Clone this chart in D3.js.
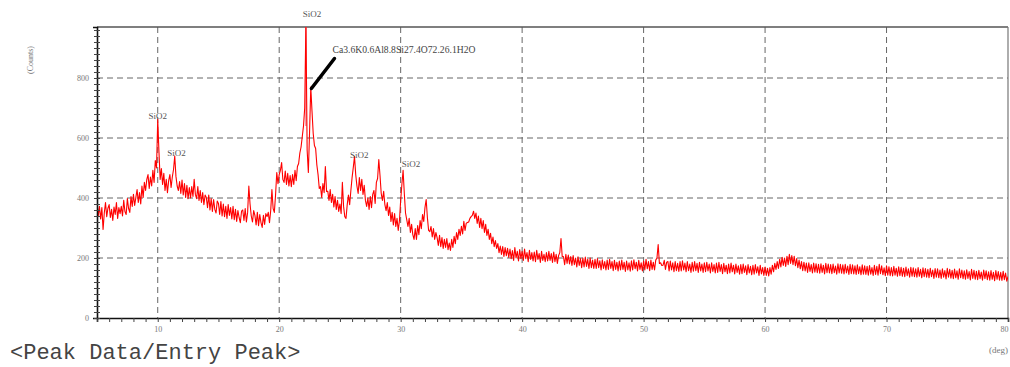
<!DOCTYPE html>
<html>
<head>
<meta charset="utf-8">
<script src="https://cdn.jsdelivr.net/npm/d3@7"></script>
<style>
  html, body { margin: 0; padding: 0; background: #fff; }
  svg { display: block; }
</style>
</head>
<body>
<svg id="chart" width="1010" height="367"></svg>
<script>
// ---- data ----
const angleStart = 5;      // 2-theta of first sample (deg)
const angleStep = 0.1;     // sampling step (deg)
const intensity = [
  385, 340, 372, 330, 368, 295, 350, 385, 338, 366,
  378, 335, 362, 325, 370, 345, 385, 332, 368, 348,
  372, 340, 392, 355, 345, 398, 365, 352, 405, 372,
  412, 375, 402, 428, 385, 418, 380, 440, 402, 452,
  425, 462, 478, 432, 470, 440, 492, 452, 525, 500,
  662, 555, 462, 498, 445, 482, 425, 462, 418, 458,
  478, 435, 470, 495, 540, 472, 440, 425, 455, 415,
  460, 410, 448, 402, 442, 398, 435, 400, 438, 405,
  462, 412, 398, 438, 392, 425, 385, 418, 378, 410,
  402, 368, 410, 360, 398, 355, 395, 362, 350, 390,
  382, 345, 388, 340, 380, 338, 372, 332, 378, 342,
  368, 330, 372, 328, 362, 322, 358, 335, 318, 356,
  360, 325, 365, 320, 352, 440, 380, 340, 320, 358,
  342, 310, 352, 308, 345, 318, 302, 342, 312, 348,
  338, 352, 318, 358, 428, 365, 352, 410, 485, 448,
  478, 492, 518, 462, 452, 490, 445, 482, 440, 475,
  438, 478, 445, 492, 458, 505, 515, 550, 570, 605,
  640, 700, 990, 560, 485, 620, 770, 690, 615, 575,
  565, 510, 478, 432, 438, 402, 448, 418, 505, 422,
  422, 392, 428, 385, 412, 370, 405, 362, 392, 355,
  380, 348, 452, 372, 338, 332, 378, 410, 378, 425,
  468, 502, 538, 478, 440, 415, 468, 425, 462, 412,
  442, 392, 372, 400, 362, 405, 368, 412, 425, 382,
  452, 465, 528, 475, 415, 392, 422, 378, 358, 385,
  342, 370, 322, 352, 310, 348, 305, 332, 292, 325,
  392, 445, 492, 415, 350, 328, 305, 332, 285, 312,
  278, 262, 298, 262, 308, 278, 325, 298, 345, 322,
  368, 395, 335, 292, 288, 305, 270, 298, 262, 285,
  268, 242, 276, 238, 268, 232, 262, 235, 265, 228,
  250, 225, 262, 235, 272, 248, 285, 262, 296, 275,
  306, 280, 322, 292, 316, 318, 320, 332, 338, 342,
  356, 332, 350, 315, 340, 302, 332, 298, 325, 285,
  312, 275, 296, 262, 282, 248, 270, 238, 258, 232,
  248, 218, 240, 212, 238, 205, 235, 208, 232, 202,
  230, 198, 225, 192, 235, 200, 222, 190, 228, 198,
  222, 192, 230, 198, 218, 188, 226, 195, 218, 190,
  220, 188, 226, 195, 215, 185, 222, 192, 212, 188,
  218, 190, 222, 192, 215, 185, 220, 188, 212, 182,
  208, 218, 265, 205, 205, 178, 212, 182, 210, 180,
  205, 175, 208, 178, 200, 170, 204, 175, 198, 168,
  200, 170, 203, 172, 196, 165, 200, 168, 193, 165,
  196, 165, 198, 168, 191, 160, 194, 165, 188, 160,
  193, 162, 196, 165, 188, 158, 192, 162, 186, 157,
  190, 160, 193, 162, 186, 155, 190, 160, 184, 156,
  191, 160, 194, 164, 186, 157, 192, 162, 184, 157,
  190, 160, 196, 164, 188, 158, 193, 162, 186, 160,
  193, 200, 245, 182, 184, 175, 176, 192, 162, 186,
  188, 157, 190, 160, 184, 154, 188, 158, 182, 155,
  188, 157, 191, 160, 183, 154, 188, 158, 180, 152,
  186, 156, 188, 158, 182, 152, 186, 157, 180, 152,
  184, 154, 186, 157, 180, 150, 184, 155, 178, 150,
  183, 152, 186, 155, 178, 148, 182, 154, 176, 148,
  180, 150, 183, 154, 176, 147, 180, 152, 174, 146,
  178, 148, 180, 152, 174, 144, 178, 150, 172, 144,
  176, 146, 178, 150, 171, 142, 176, 147, 168, 142,
  170, 142, 166, 140, 168, 146, 176, 154, 182, 162,
  188, 165, 196, 170, 202, 175, 200, 172, 206, 178,
  212, 182, 208, 178, 206, 174, 198, 168, 193, 164,
  188, 158, 186, 157, 183, 152, 184, 155, 178, 150,
  183, 153, 181, 151, 179, 149, 181, 152, 176, 147,
  182, 151, 180, 150, 178, 148, 180, 151, 173, 146,
  181, 150, 179, 149, 177, 147, 179, 150, 173, 145,
  179, 148, 177, 147, 174, 145, 177, 148, 171, 144,
  177, 146, 174, 145, 172, 143, 175, 146, 168, 142,
  176, 145, 172, 143, 179, 148, 174, 144, 167, 141,
  174, 143, 171, 141, 168, 140, 172, 143, 166, 139,
  171, 141, 169, 139, 166, 138, 170, 141, 164, 136,
  169, 139, 167, 138, 164, 136, 168, 139, 162, 134,
  167, 138, 165, 136, 162, 134, 166, 138, 160, 132,
  165, 136, 164, 134, 160, 132, 164, 136, 158, 130,
  166, 136, 162, 133, 159, 131, 163, 134, 157, 129,
  164, 134, 160, 131, 157, 129, 161, 132, 155, 127,
  162, 132, 159, 129, 156, 128, 159, 131, 153, 126,
  160, 131, 157, 128, 154, 126, 158, 129, 152, 124,
  158, 129, 155, 126, 152, 125, 156, 128, 150, 123,
  138
];

const xTicks = [10, 20, 30, 40, 50, 60, 70, 80];
const yTicks = [0, 200, 400, 600, 800];

// peak identification labels
const peakLabelText = ["SiO2", "SiO2", "SiO2", "SiO2", "SiO2"];
const peakLabelAngle = [10.0, 11.55, 22.7, 26.6, 30.85];
const peakLabelCount = [662, 540, 1005, 535, 505];

// callout
const calloutText = "Ca3.6K0.6Al8.8Si27.4O72.26.1H2O";
const calloutFrom = [22.65, 765];
const calloutTo = [24.55, 865];

// main peak marker
const markerAngle = 22.2;
const markerRange = [640, 970];

// ---- drawing ----
const svg = d3.select("#chart");
const x = d3.scaleLinear().domain([5, 80]).range([97, 1008]);
const y = d3.scaleLinear().domain([0, 970]).range([318, 27]);

const data = intensity.map((v, i) => ({ a: angleStart + i * angleStep, c: v }));

svg.append("defs").append("clipPath").attr("id", "clip")
  .append("rect").attr("x", x(5)).attr("y", y(970)).attr("width", x(80) - x(5)).attr("height", y(0) - y(970));

// grid
const grid = svg.append("g").attr("stroke", "#666").attr("stroke-width", 1).attr("stroke-dasharray", "6,4");
grid.selectAll("line.vx").data(xTicks.filter(d => d < 80)).join("line")
  .attr("x1", d => x(d)).attr("x2", d => x(d)).attr("y1", y(970)).attr("y2", y(0));
grid.selectAll("line.hy").data(yTicks.filter(d => d > 0)).join("line")
  .attr("x1", x(5)).attr("x2", x(80)).attr("y1", d => y(d)).attr("y2", d => y(d));

// frame (top / right)
svg.append("line").attr("x1", x(5)).attr("x2", x(80)).attr("y1", y(970)).attr("y2", y(970))
  .attr("stroke", "#555").attr("stroke-width", 1.5);
svg.append("line").attr("x1", x(80)).attr("x2", x(80)).attr("y1", y(970)).attr("y2", y(0))
  .attr("stroke", "#777").attr("stroke-width", 1.2);

// peak marker
svg.append("line").attr("x1", x(markerAngle)).attr("x2", x(markerAngle))
  .attr("y1", y(markerRange[1])).attr("y2", y(markerRange[0]))
  .attr("stroke", "#f07080").attr("stroke-width", 1.2);

// data line
const line = d3.line().x(d => x(d.a)).y(d => y(d.c));
svg.append("path").datum(data).attr("d", line).attr("clip-path", "url(#clip)")
  .attr("fill", "none").attr("stroke", "#ff0000").attr("stroke-width", 1.1).attr("stroke-linejoin", "round");

// axes
const xAxis = d3.axisBottom(x).tickValues(d3.range(5, 81, 1)).tickSize(4).tickFormat(d => xTicks.includes(d) ? d : "");
const gx = svg.append("g").attr("transform", `translate(0,${y(0)})`).call(xAxis);
gx.select(".domain").attr("stroke", "#111").attr("stroke-width", 1.6);
gx.selectAll(".tick line").attr("stroke", "#444");
gx.selectAll(".tick text").attr("font-family", "Liberation Serif").attr("font-size", 8).attr("fill", "#777").attr("dy", "0.9em")
  .attr("text-anchor", d => d === 80 ? "end" : "middle");

const yAxis = d3.axisLeft(y).tickValues(d3.range(0, 961, 20)).tickSize(4).tickFormat(d => yTicks.includes(d) ? d : "");
const gy = svg.append("g").attr("transform", `translate(${x(5)},0)`).call(yAxis);
gy.select(".domain").attr("stroke", "#111").attr("stroke-width", 1.6);
gy.selectAll(".tick line").attr("stroke", "#444").attr("x2", 3).attr("x1", -3);
gy.selectAll(".tick text").attr("font-family", "Liberation Serif").attr("font-size", 8).attr("fill", "#777").attr("x", -8);

// axis titles
svg.append("text").attr("transform", `translate(33,${y(860)}) rotate(-90)`)
  .attr("text-anchor", "middle").attr("font-family", "Liberation Serif").attr("font-size", 8).attr("fill", "#777")
  .text("(Counts)");
svg.append("text").attr("x", x(80)).attr("y", 353).attr("text-anchor", "end")
  .attr("font-family", "Liberation Serif").attr("font-size", 9).attr("fill", "#777").text("(deg)");

// peak labels
svg.append("g").selectAll("text").data(peakLabelText).join("text")
  .attr("x", (d, i) => x(peakLabelAngle[i])).attr("y", (d, i) => y(peakLabelCount[i]))
  .attr("text-anchor", "middle").attr("font-family", "Liberation Serif").attr("font-size", 9).attr("fill", "#555")
  .text(d => d);

// callout
svg.append("line").attr("x1", x(calloutFrom[0])).attr("y1", y(calloutFrom[1]))
  .attr("x2", x(calloutTo[0])).attr("y2", y(calloutTo[1]))
  .attr("stroke", "#000").attr("stroke-width", 3.5).attr("stroke-linecap", "round");
svg.append("text").attr("x", x(calloutTo[0]) - 2).attr("y", y(calloutTo[1]) - 6)
  .attr("font-family", "Liberation Serif").attr("font-size", 9.5).attr("fill", "#444")
  .attr("textLength", 143).attr("lengthAdjust", "spacingAndGlyphs")
  .text(calloutText);

// footer
svg.append("text").attr("x", 10).attr("y", 359)
  .attr("font-family", "Liberation Mono").attr("font-size", 22).attr("fill", "#444")
  .text("<Peak Data/Entry Peak>");
</script>
</body>
</html>
